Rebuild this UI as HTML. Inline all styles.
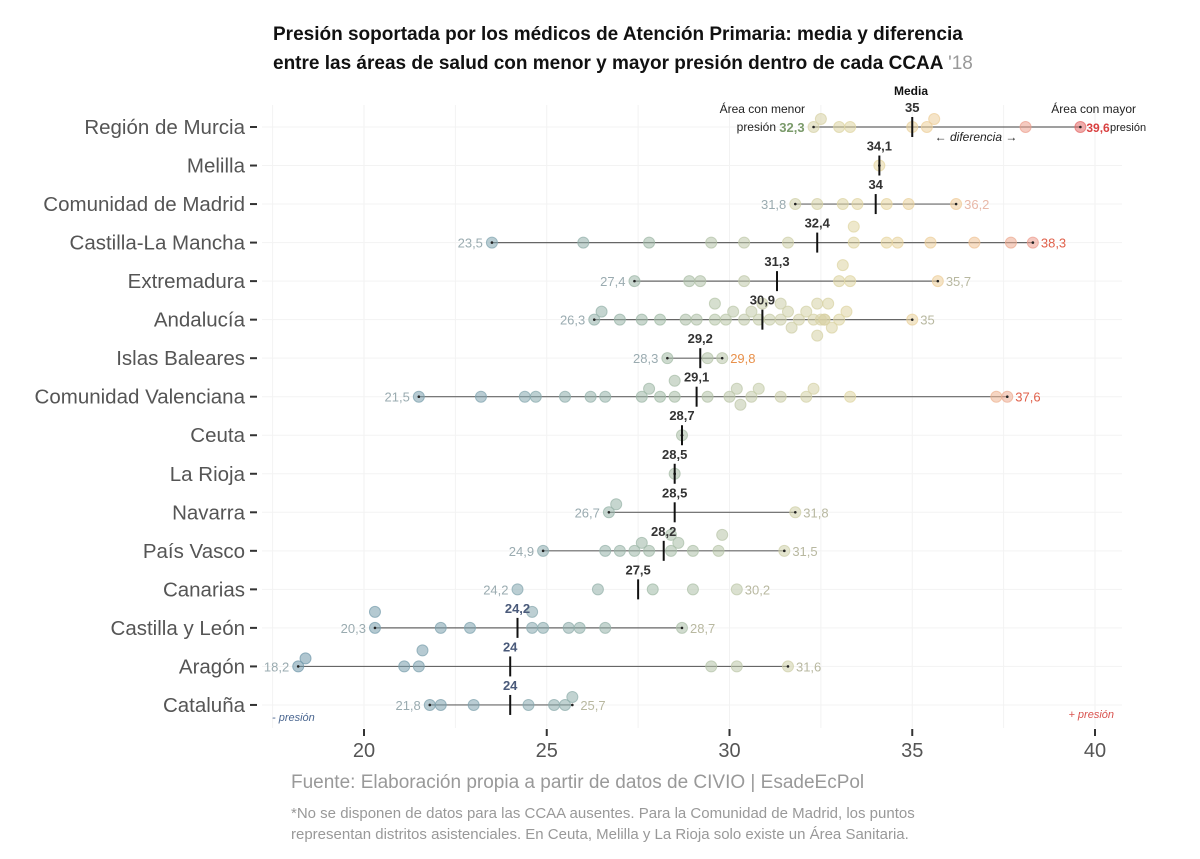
<!DOCTYPE html>
<html><head><meta charset="utf-8">
<style>
body{margin:0;background:#fff;width:1200px;height:854px;overflow:hidden;font-family:"Liberation Sans",sans-serif}
svg text{font-family:"Liberation Sans",sans-serif}
</style></head>
<body>
<svg id="chart" width="1200" height="854" viewBox="0 0 1200 854">
<text x="273" y="40" font-size="19" font-weight="bold" fill="#111">Presión soportada por los médicos de Atención Primaria: media y diferencia</text>
<text x="273" y="69" font-size="19" font-weight="bold" fill="#111">entre las áreas de salud con menor y mayor presión dentro de cada CCAA <tspan font-weight="normal" fill="#999">'18</tspan></text>
<g id="grid"></g><g id="marks"></g><g id="axes"></g>
<text x="911" y="95" font-size="12" font-weight="bold" text-anchor="middle" fill="#111">Media</text>
<text x="805" y="113" font-size="12" text-anchor="end" fill="#222">Área con menor</text>
<text x="776" y="131" font-size="12" text-anchor="end" fill="#222">presión</text>
<text x="1136" y="113" font-size="12" text-anchor="end" fill="#222">Área con mayor</text>
<text x="1110" y="131" font-size="11" fill="#222">presión</text>
<text x="976" y="141" font-size="12" font-style="italic" text-anchor="middle" fill="#222">← diferencia →</text>
<text x="272" y="721" font-size="11" font-style="italic" fill="#4a6690">- presión</text>
<text x="1114" y="718" font-size="11" font-style="italic" text-anchor="end" fill="#d9534f">+ presión</text>
<text x="291" y="788" font-size="19" fill="#999">Fuente: Elaboración propia a partir de datos de CIVIO | EsadeEcPol</text>
<text x="291" y="818" font-size="15" fill="#999">*No se disponen de datos para las CCAA ausentes. Para la Comunidad de Madrid, los puntos</text>
<text x="291" y="839" font-size="15" fill="#999">representan distritos asistenciales. En Ceuta, Melilla y La Rioja solo existe un Área Sanitaria.</text>
</svg>
<script>
const regions=["Región de Murcia","Melilla","Comunidad de Madrid","Castilla-La Mancha","Extremadura","Andalucía","Islas Baleares","Comunidad Valenciana","Ceuta","La Rioja","Navarra","País Vasco","Canarias","Castilla y León","Aragón","Cataluña"];
const means=[35,34.1,34,32.4,31.3,30.9,29.2,29.1,28.7,28.5,28.5,28.2,27.5,24.2,24,24];
const mins=[32.3,34.1,31.8,23.5,27.4,26.3,28.3,21.5,28.7,28.5,26.7,24.9,24.2,20.3,18.2,21.8];
const maxs=[39.6,34.1,36.2,38.3,35.7,35,29.8,37.6,28.7,28.5,31.8,31.5,30.2,28.7,31.6,25.7];
const hasLine=[1,1,1,1,1,1,1,1,1,1,1,1,0,1,1,1];
const dots=[
[32.3,32.5,33.0,33.3,35.0,35.4,35.6,38.1,39.6],
[34.1],
[31.8,32.4,33.1,33.5,34.3,34.9,36.2],
[23.5,26.0,27.8,29.5,30.4,31.6,33.4,33.4,34.3,34.6,35.5,36.7,37.7,38.3],
[27.4,28.9,29.2,30.4,33.0,33.1,33.3,35.7],
[26.3,26.5,27.0,27.6,28.1,28.8,29.1,29.6,29.6,29.9,30.1,30.4,30.6,30.8,30.9,31.1,31.4,31.4,31.6,31.7,31.9,32.1,32.3,32.4,32.4,32.5,32.6,32.6,32.7,32.8,33.0,33.2,35.0],
[28.3,29.4,29.8],
[21.5,23.2,24.4,24.7,25.5,26.2,26.6,27.6,27.8,28.1,28.5,28.5,29.4,30.0,30.2,30.3,30.6,30.8,31.4,32.1,32.3,33.3,37.3,37.6],
[28.7],
[28.5],
[26.7,26.9,31.8],
[24.9,26.6,27.0,27.4,27.6,27.8,28.4,28.4,28.6,29.0,29.7,29.8,31.5],
[24.2,26.4,27.9,29.0,30.2],
[20.3,20.3,22.1,22.9,24.6,24.6,24.9,25.6,25.9,26.6,28.7],
[18.2,18.4,21.1,21.5,21.6,29.5,30.2,31.6],
[21.8,22.1,23.0,24.5,25.2,25.5,25.7]];
const xTicks=[20,25,30,35,40];
const NS="http://www.w3.org/2000/svg";
const X=v=>364+(v-20)*36.55;
const Y=i=>127+i*38.53;
function mk(tag,attrs,parent){const e=document.createElementNS(NS,tag);for(const k in attrs)e.setAttribute(k,attrs[k]);parent.appendChild(e);return e;}
const stops=[[18,[110,150,170]],[24,[130,165,175]],[28,[160,185,165]],[31,[200,205,170]],[34,[230,215,160]],[36.5,[240,200,150]],[38.5,[235,150,140]],[40,[225,90,90]]];
function col(v){for(let i=0;i<stops.length-1;i++){const[a,ca]=stops[i],[b,cb]=stops[i+1];if(v<=b||i==stops.length-2){let t=Math.max(0,Math.min(1,(v-a)/(b-a)));return "rgb("+ca.map((c,j)=>Math.round(c+(cb[j]-c)*t)).join(",")+")";}}}
const grid=document.getElementById('grid'),marks=document.getElementById('marks'),axes=document.getElementById('axes');
for(let v=17.5;v<=40.5;v+=2.5){const l=mk('line',{x1:X(v),x2:X(v),y1:105,y2:728,stroke:'#f2f2f2','stroke-width':1},grid);

}
regions.forEach((r,i)=>{const l=mk('line',{x1:262,x2:1122,y1:Y(i),y2:Y(i),stroke:'#f3f3f3','stroke-width':1},grid);


const t=mk('text',{x:245,y:Y(i)+7,'font-size':20.5,'text-anchor':'end',fill:'#555'},axes);t.textContent=r;


const tk=mk('line',{x1:250,x2:257,y1:Y(i),y2:Y(i),stroke:'#333','stroke-width':2},axes);

});
xTicks.forEach(v=>{const tk=mk('line',{x1:X(v),x2:X(v),y1:729,y2:736,stroke:'#333','stroke-width':2},axes);


const t=mk('text',{x:X(v),y:757,'font-size':20,'text-anchor':'middle',fill:'#555'},axes);t.textContent=v;

});
regions.forEach((r,i)=>{const y=Y(i);
if(hasLine[i]){
const ln=mk('line',{x1:X(mins[i]),x2:X(maxs[i]),y1:y,y2:y,stroke:'#666','stroke-width':1.2},marks);

}
const placed=[];
[...dots[i]].sort((a,b)=>a-b).forEach(v=>{const x=X(v);let dy=0;
for(const c of [0,-8,8,-16,16]){if(placed.every(p=>Math.hypot(p[0]-x,p[1]-c)>=10)){dy=c;break;}}
placed.push([x,dy]);
const d=mk('circle',{cx:x,cy:y+dy,r:5.5,fill:col(v),'fill-opacity':0.55,stroke:col(v),'stroke-opacity':0.7},marks);

});
if(hasLine[i])[mins[i],maxs[i]].forEach(v=>{const e=mk('circle',{cx:X(v),cy:y,r:1.3,fill:'#222'},marks);

});
const m=mk('line',{x1:X(means[i]),x2:X(means[i]),y1:y-10,y2:y+10,stroke:'#111','stroke-width':2},marks);


const mt=mk('text',{x:X(means[i]),y:y-15,'font-size':13,'font-weight':'bold','text-anchor':'middle',fill:means[i]<25?'#4a5a7a':'#333'},marks);
mt.textContent=String(means[i]).replace('.',',');


if(maxs[i]>mins[i]){
const lo=mk('text',{x:X(mins[i])-9,y:y+5,'font-size':13,'text-anchor':'end',fill:i==0?'#7a9a6a':'#9aabb0','font-weight':i==0?'bold':'normal'},marks);
lo.textContent=String(mins[i]).replace('.',',');


const hc=maxs[i]>=39?'#d94040':maxs[i]>=37.5?'#e0604a':maxs[i]>=36?'#e8b8a8':i==6?'#e8904a':'#b8b8a0';
const hi=mk('text',{x:X(maxs[i])+(i==0?6:8),y:y+5,'font-size':i==0?12:13,'text-anchor':'start',fill:hc,'font-weight':i==0?'bold':'normal'},marks);
hi.textContent=String(maxs[i]).replace('.',',');

}
});
</script>
</body></html>
